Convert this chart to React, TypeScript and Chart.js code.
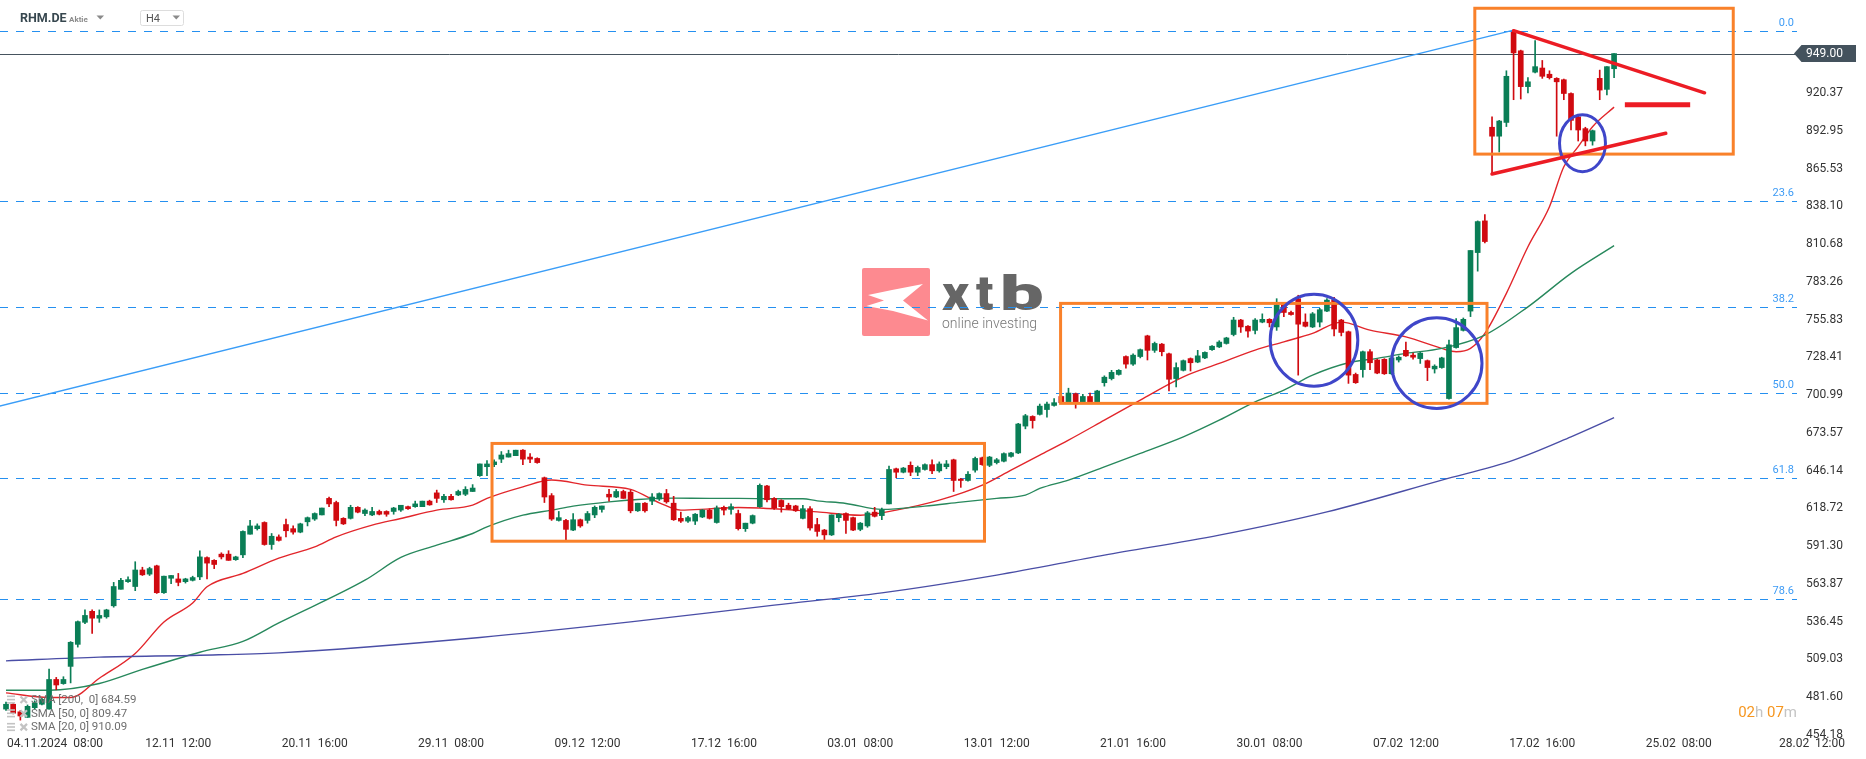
import React, { useEffect, useRef } from "react";
import { Chart, registerables } from "chart.js";

Chart.register(...registerables);

const W = 1866;
const H = 759;

// ---- candle data (H4), index 0 = first visible candle ----
const opens = [
  473,476.5,471,467,474,476.5,473,494.5,491.5,504,
  520,536,544,539,540,548,560,565.5,562,574,
  571,577,557.5,568,567.5,565.5,566.5,569,583,581,
  585.5,585.5,581.5,585,600,604,608.5,592.5,598,607,
  604,601.5,609,611,614,626,623,611.5,611.5,619.5,
  615,614,616.5,616.5,616.5,617.5,620,620,620,624,
  630,625,627.5,628.5,629,631,642.5,649,650.5,654.5,
  656,657,661,656,655,641,628,610,610,603,
  610.5,610,614,618,629,627,631,630.5,617,622.5,
  624,625.5,629.5,622.5,611.5,609.5,609.5,612.5,617.5,608.5,
  619.5,618,615,604,608,620,635,626,624.5,621,
  620.5,611.5,618.5,607,603,599.5,612,615,612,603.5,
  606,616,613.5,622,647.5,645,650,645,647,650.5,
  646,649,654,640,639,646.5,655.5,650,652,653,
  656.5,659,678.5,685.5,687,690.5,693.5,700,695.5,702,
  696,700,696,710,713,716,729,723.5,729,744,
  733.5,738,731,713,719,727.5,725,728,734,736,
  738.5,745,755.5,751,748,754,756,750.5,766.5,761,
  771,754,750.5,754,762,770,755.5,747,716,719.5,
  732.5,726.5,727,716.5,726.5,733.5,730,727.5,726,720,
  721,698.5,735.5,748,762,804.5,827.5,895.5,889,899,
  964.5,951,925,935.5,938.5,934,931,930,920,903,
  894.5,885.5,931,923,938,
];
const highs = [
  478,477,472,476,479,481,502,496,496.5,522,
  537,545,545,545,545.5,565,568,569,580,576,
  576,577.5,569.5,570,571.5,568,569.5,588,583.5,581.5,
  586.5,588,584,602.5,610,607.5,609,600.5,599.5,611,
  606,608,612.5,615.5,619,627,624,612,621,620,
  618.5,619.5,617.5,617,619.5,621,620.5,624,624,624.7,
  632,629,629,632,634.5,636,651,653.5,654,660,
  661,661,661.5,658.5,655.5,641.5,629.5,616.5,610.7,615,
  611,616.5,620.5,620.5,632.5,632.5,632,632,622.5,623,
  629.5,630,632.5,627.5,616,613,615,618,618.5,620.5,
  620.5,622,617.5,608,614,636.5,635.5,626.5,625,622.5,
  621,621,620,611.5,603.5,614,615,615.5,612.5,608.5,
  616.5,619.5,619,649.5,648,648.5,652.5,649.5,651,654,
  652.5,653.5,654.5,640.5,645.5,656,656,656.5,655,659,
  659.5,680.5,687,686,694.5,696,698.5,701,706,702.5,
  701.5,702.5,704.5,715,719,719.5,729.5,731,734.5,744.5,
  739.5,738.5,731.5,724.5,726.5,728,733.5,732.5,737,740.5,
  743,757.5,756,751.5,756.5,760,756.5,771,767,762,
  773.5,760,761,764,771,772,756,747.5,717,733,
  734,727,727.5,728.5,729.5,739.5,731.5,732,726.5,723,
  728.5,741,756.5,757,806,827.5,832,903,900.5,936.5,
  965.5,951.5,931.5,958.5,944,936.5,931.5,930.5,920.5,903.5,
  895.5,893.5,937,939.5,949,
];
const lows = [
  472,469.5,465,467,473,476,473,487,491,492,
  518,535,528,536,539,547,560,565,559,570,
  570,557,557,564,562.5,564.5,566,567,567.5,575,
  582,581,581,583,600,603,592,589,595,598,
  600,601,606,610,614,620,606,607,611,615.5,
  613.5,613.5,614,613,614.5,616.5,618,619.5,620,621,
  623,623,624.7,628,628,631,642,642.5,649,652,
  656,657,650.5,652,651.5,623,610,609.5,595.5,602.5,
  605,608,612,616,624,626.5,626,615.5,616.5,616,
  621.5,624.5,622.5,610,608.5,608.5,607,612,611,608,
  614,614.5,603,602,607.5,619.5,623.5,618,616,618,
  616.5,611,603,598.5,595.5,599,609,600.5,602.5,602.5,
  605,612.5,610.5,622,641,644.5,642.5,642.5,646.5,644,
  645,647.5,631,634,638.5,645,650,649,651,652.5,
  656,658.5,676.5,677,686.5,685,693,695,695,691.5,
  695.5,695.5,695.5,707.5,712,715.5,720.5,722.5,728,726.5,
  732,729.5,704,707,718.5,718.5,724.5,727.5,733.5,735.5,
  738,744,746.5,743,745.5,753.5,750.5,748,758,759,
  715.5,750.5,750,750.5,761.5,744,744,709.5,709.5,714,
  719.5,716.5,716,716,725,729,727,724,711.5,717,
  720.5,698,735,747.5,758,791,811.5,861.5,877.5,896,
  915.5,916,920.5,935,931,930.5,889,915.5,893.5,885.5,
  882,882.5,915.5,919,931.5,
];
const closes = [
  476.5,470,468,475,477.5,480,494.5,490.5,494.5,521.5,
  536.5,541,539,541,545,562,566.5,567,574,570.5,
  575,557.5,569.5,570,565,567.5,568.5,583.5,579,578,
  583.5,581,583.5,602,606,606,592.5,598.5,595.5,602.5,
  601.5,607.5,612,615,619,622,610,607.5,619.5,616,
  617.5,616.5,614.5,614.5,619,621,618.5,622,624,621.3,
  626,627.5,625,631,632.5,633.5,651,651,652.5,657.5,
  658.5,661,654.5,654.5,652,627,611,612,603.5,610.5,
  606,615,619.5,620.5,627,631,626,617,622.5,617,
  627,629.5,623.5,610.5,609.5,612,614.5,617.5,611.5,619,
  617.5,620,604,608,613.5,635.5,625,619,620,618.5,
  617,618.5,604.5,602,599.5,614,614.5,610,603,608,
  615.5,613,617.5,647,645,648,645,648.5,650.5,646,
  651,651,639,639,643.5,655,650.5,656,654,658.5,
  659,680,686,682.5,693,694.5,695.5,695.5,702.5,695.5,
  700,696,704,714,717.5,719,723.5,730,734,733.5,
  738.5,732.5,712.5,721,726,724.5,729.5,732,736.5,739.5,
  742.5,755.5,750.5,747.5,755.5,756,753.5,766.5,761,759.5,
  752.5,751,760,763,770,749,746.5,715.5,710,732.5,
  724.5,717,716.5,728,728.5,729.5,728.5,731.5,721,722,
  728,737.5,750,756,806,827,812.5,889,900,932.5,
  949.5,925,928.5,939.5,932.5,931.5,928.5,920,900.5,893.5,
  885.5,893,922.5,939.5,949,
];

// ---- moving averages: [candle index, value] ----
const sma20 = [
  [0,484.8],[6,481.4],[9,481.4],[13,495.4],[18,513.4],[22,536.3],[26,550.1],[28,561.8],[33,571.5],[38,582.6],
  [43,590.8],[46,598.1],[51,606.6],[55,611.4],[60,617.5],[65,621.1],[67,626.0],[72,634.4],[76,639.3],[81,635.6],
  [87,632.5],[91,622.8],[94,617.5],[98,618.4],[102,619.4],[110,617.5],[113,616.2],[119,613.8],[124,617.5],[130,624.7],
  [136,635.6],[140,646.5],[144,657.4],[148,668.3],[153,682.8],[158,697.4],[164,714.3],[169,724.0],[174,733.7],[178,739.7],
  [182,745.8],[186,754.0],[190,748.2],[195,743.3],[200,734.9],[202,732.5],[204,734.9],[206,745.8],[209,774.9],[212,808.7],
  [215,837.8],[217,866.8],[219,881.4],[221,895.9],[224,910.1],
];
const sma50 = [
  [0,486.7],[6,486.7],[13,491.6],[19,501.8],[27,514.3],[33,522.1],[38,535.6],[50,566.6],[55,583.1],[60,592.0],
  [65,600.5],[67,605.3],[72,613.8],[76,617.5],[79,620.4],[84,623.5],[88,625.2],[93,626.2],[98,626.0],[102,626.0],
  [107,625.7],[111,625.7],[113,624.2],[117,622.3],[122,618.0],[128,620.4],[133,623.3],[138,626.0],[142,628.4],[144,633.2],
  [148,639.3],[153,648.9],[158,658.7],[164,670.7],[169,682.8],[174,696.1],[178,704.6],[182,715.5],[187,724.5],[191,727.7],
  [195,731.3],[200,734.9],[206,744.6],[212,765.1],[218,789.4],[224,809.5],
];
const sma200 = [
  [0,508.0],[13,510.7],[27,512.1],[38,513.8],[66,525.0],[87,536.3],[107,548.5],[122,557.4],[138,570.3],[153,584.8],
  [169,599.3],[184,616.2],[200,639.3],[210,653.8],[218,670.7],[224,684.6],
];

// ---- axes ----
const yTicks = [454.18,481.60,509.03,536.45,563.87,591.30,618.72,646.14,673.57,700.99,728.41,755.83,783.26,810.68,838.10,865.53,892.95,920.37];
const xTickIdx = [5,24,43,62,81,100,119,138,157,176,195,214,233];
const xTickLabels = ["04.11.2024  08:00","12.11  12:00","20.11  16:00","29.11  08:00","09.12  12:00","17.12  16:00","03.01  08:00","13.01  12:00","21.01  16:00","30.01  08:00","07.02  12:00","17.02  16:00","25.02  08:00"];
const xEdgeLabel = "28.02  12:00";

// ---- drawings ----
const fibLevels = [965.4, 841.9, 764.9, 702.7, 640.7, 552.8];
const fibLabels = ["0.0","23.6","38.2","50.0","61.8","78.6"];
const lastPrice = 949.0;
const trendLine = [[-1, 692.9], [210, 966.1]];
const boxes = [[67.7,665.9,136.3,594.9],[146.9,767.6,206.3,695.0],[204.6,981.9,240.6,876.0]];
const ellipses = [[182.2,740.9,6.1,33.4],[199.3,724.2,6.3,32.9],[219.6,883.9,3.2,20.7]];
const redLines = [[210,965.6,236.6,920.5],[207,861.5,231.2,891.1]];
const redBar = [225.5,911.9,234.6,911.9];
const legendNames = ["SMA [200,  0]","SMA [50, 0]","SMA [20, 0]"];
const legendValues = ["684.59","809.47","910.09"];

const GREEN = "#0a7e56";
const RED = "#d00a10";

function drawGlyph(ctx: CanvasRenderingContext2D, ch: string, left: number, inkWidth: number, baseline: number) {
  const m = ctx.measureText(ch);
  const ink = m.actualBoundingBoxRight + m.actualBoundingBoxLeft;
  const sx = ink > 0 ? inkWidth / ink : 1;
  ctx.save();
  ctx.translate(left + m.actualBoundingBoxLeft * sx, baseline);
  ctx.scale(sx, 1);
  ctx.fillText(ch, 0, 0);
  ctx.restore();
}

const overlay = {
  id: "overlay",
  beforeDatasetsDraw(chart: any) {
    const { ctx, chartArea: a, scales } = chart;
    const x = scales.x, y = scales.y;
    ctx.save();
    // xtb logo watermark
    ctx.fillStyle = "#fd8a90";
    ctx.beginPath();
    (ctx as any).roundRect ? ctx.roundRect(862, 268, 68, 68, 2) : ctx.rect(862, 268, 68, 68);
    ctx.fill();
    ctx.fillStyle = "#ffffff";
    ctx.beginPath();
    ctx.moveTo(868, 295); ctx.lineTo(892, 290); ctx.lineTo(923, 284); ctx.lineTo(903, 300.5);
    ctx.lineTo(928, 320.5); ctx.lineTo(893, 311); ctx.lineTo(866.5, 306); ctx.lineTo(884, 300.5);
    ctx.closePath(); ctx.fill();
    ctx.fillStyle = "#666666";
    ctx.textBaseline = "alphabetic";
    ctx.textAlign = "left";
    ctx.font = "900 49px Roboto";
    drawGlyph(ctx, "x", 942, 28, 310);
    drawGlyph(ctx, "t", 976, 17.5, 310);
    drawGlyph(ctx, "b", 1003, 40, 310);
    ctx.fillStyle = "#777777";
    ctx.font = "300 14px Roboto";
    ctx.fillText("online investing", 942, 328, 99);

    ctx.beginPath(); ctx.rect(a.left, a.top, a.right - a.left, a.bottom - a.top); ctx.clip();
    // fibonacci levels
    ctx.strokeStyle = "#2590f0"; ctx.lineWidth = 1; ctx.setLineDash([8, 8]);
    fibLevels.forEach((lv) => {
      const py = Math.round(y.getPixelForValue(lv)) + 0.5;
      ctx.beginPath(); ctx.moveTo(a.left, py); ctx.lineTo(a.right, py); ctx.stroke();
    });
    ctx.setLineDash([]);
    ctx.fillStyle = "#3d9bf5"; ctx.font = "11px Roboto"; ctx.textAlign = "right"; ctx.textBaseline = "middle";
    fibLevels.forEach((lv, k) => {
      ctx.fillText(fibLabels[k], a.right - 3, y.getPixelForValue(lv) - 8);
    });
    // last price line
    const lp = Math.round(y.getPixelForValue(lastPrice)) + 0.5;
    ctx.strokeStyle = "#46545e"; ctx.lineWidth = 1;
    ctx.beginPath(); ctx.moveTo(a.left, lp); ctx.lineTo(a.right, lp); ctx.stroke();
    // trend line
    ctx.strokeStyle = "#3a9df7"; ctx.lineWidth = 1.3;
    ctx.beginPath();
    ctx.moveTo(x.getPixelForValue(trendLine[0][0]), y.getPixelForValue(trendLine[0][1]));
    ctx.lineTo(x.getPixelForValue(trendLine[1][0]), y.getPixelForValue(trendLine[1][1]));
    ctx.stroke();
    ctx.restore();
  },
  afterDatasetsDraw(chart: any) {
    const { ctx, chartArea: a, scales } = chart;
    const x = scales.x, y = scales.y;
    ctx.save();
    ctx.beginPath(); ctx.rect(a.left, a.top, a.right - a.left, a.bottom - a.top); ctx.clip();
    // orange boxes
    ctx.strokeStyle = "#f9812a"; ctx.lineWidth = 3;
    boxes.forEach(([i1, p1, i2, p2]) => {
      const x1 = x.getPixelForValue(i1), y1 = y.getPixelForValue(p1);
      const x2 = x.getPixelForValue(i2), y2 = y.getPixelForValue(p2);
      ctx.strokeRect(x1, y1, x2 - x1, y2 - y1);
    });
    // blue circles
    ctx.strokeStyle = "#3f46c9"; ctx.lineWidth = 3;
    ellipses.forEach(([ci, cp, ri, rp]) => {
      const cx = x.getPixelForValue(ci), cy = y.getPixelForValue(cp);
      const rx = x.getPixelForValue(ci + ri) - cx, ry = cy - y.getPixelForValue(cp + rp);
      ctx.beginPath(); ctx.ellipse(cx, cy, rx, ry, 0, 0, Math.PI * 2); ctx.stroke();
    });
    // red triangle lines
    ctx.strokeStyle = "#ec1c24"; ctx.lineWidth = 3.5; ctx.lineCap = "round";
    redLines.forEach(([i1, p1, i2, p2]) => {
      ctx.beginPath();
      ctx.moveTo(x.getPixelForValue(i1), y.getPixelForValue(p1));
      ctx.lineTo(x.getPixelForValue(i2), y.getPixelForValue(p2));
      ctx.stroke();
    });
    ctx.lineWidth = 5; ctx.lineCap = "butt";
    ctx.beginPath();
    ctx.moveTo(x.getPixelForValue(redBar[0]), y.getPixelForValue(redBar[1]));
    ctx.lineTo(x.getPixelForValue(redBar[2]), y.getPixelForValue(redBar[3]));
    ctx.stroke();
    ctx.restore();

    ctx.save();
    // legend of indicators
    const rowsY = [700, 713.7, 727.4];
    legendNames.forEach((nm, k) => {
      const ry = rowsY[k];
      ctx.fillStyle = "#c3c3c3";
      ctx.fillRect(7, ry - 4.5, 8, 1.6);
      ctx.fillRect(7, ry - 1.2, 8, 1.6);
      ctx.fillRect(7, ry + 2.1, 8, 1.6);
      ctx.strokeStyle = "#c3c3c3"; ctx.lineWidth = 2.2;
      ctx.beginPath();
      ctx.moveTo(20.5, ry - 3.5); ctx.lineTo(27, ry + 3);
      ctx.moveTo(27, ry - 3.5); ctx.lineTo(20.5, ry + 3);
      ctx.stroke();
      ctx.fillStyle = "#6e6e6e"; ctx.font = "11.5px Roboto"; ctx.textAlign = "left"; ctx.textBaseline = "middle";
      ctx.fillText(nm + " " + legendValues[k], 31, ry);
    });
    // candle countdown
    ctx.font = "15px Roboto"; ctx.textBaseline = "middle"; ctx.textAlign = "left";
    const parts: [string, string][] = [["02", "#f6961f"], ["h ", "#c4c4c4"], ["07", "#f6961f"], ["m", "#c4c4c4"]];
    const tw = parts.reduce((s, p) => s + ctx.measureText(p[0]).width, 0);
    let cx = a.right - tw;
    parts.forEach(([t, c]) => { ctx.fillStyle = c; ctx.fillText(t, cx, 713); cx += ctx.measureText(t).width; });
    // price tag
    const ty = y.getPixelForValue(lastPrice);
    ctx.fillStyle = "#44525d";
    ctx.beginPath();
    ctx.moveTo(a.right - 3, ty); ctx.lineTo(a.right + 4.5, ty - 8.5); ctx.lineTo(W - 10, ty - 8.5);
    ctx.lineTo(W - 10, ty + 8.5); ctx.lineTo(a.right + 4.5, ty + 8.5); ctx.closePath(); ctx.fill();
    ctx.fillStyle = "#ffffff"; ctx.font = "12px Roboto"; ctx.textAlign = "left"; ctx.textBaseline = "middle";
    ctx.fillText(lastPrice.toFixed(2), a.right + 9, ty + 0.5);
    ctx.restore();
  },
  afterDraw(chart: any) {
    const { ctx, scales } = chart;
    const x = scales.x;
    ctx.save();
    // time axis labels
    ctx.font = "12px Roboto"; ctx.fillStyle = "#333333"; ctx.textBaseline = "middle"; ctx.textAlign = "left";
    xTickIdx.forEach((v, k) => {
      const px = x.getPixelForValue(v);
      const w = ctx.measureText(xTickLabels[k]).width;
      const left = Math.max(7, px - w / 2);
      ctx.fillText(xTickLabels[k], left, 744);
    });
    ctx.textAlign = "right";
    ctx.fillText(xEdgeLabel, W - 21, 744);
    // header
    ctx.textAlign = "left";
    ctx.font = "bold 12.5px Roboto"; ctx.fillStyle = "#37474f";
    ctx.fillText("RHM.DE", 20, 18.5);
    ctx.font = "bold 8px Roboto"; ctx.fillStyle = "#8c8c8c";
    ctx.fillText("Aktie", 69, 19.5);
    ctx.fillStyle = "#8a8a8a";
    ctx.beginPath(); ctx.moveTo(96.5, 15.5); ctx.lineTo(104, 15.5); ctx.lineTo(100.25, 19.5); ctx.closePath(); ctx.fill();
    ctx.strokeStyle = "#dddddd"; ctx.lineWidth = 1;
    ctx.beginPath();
    (ctx as any).roundRect ? ctx.roundRect(140.5, 10.5, 43, 15, 2) : ctx.rect(140.5, 10.5, 43, 15);
    ctx.stroke();
    ctx.font = "11px Roboto"; ctx.fillStyle = "#555555";
    ctx.fillText("H4", 146, 19);
    ctx.fillStyle = "#8a8a8a";
    ctx.beginPath(); ctx.moveTo(172.5, 15.5); ctx.lineTo(180, 15.5); ctx.lineTo(176.25, 19.5); ctx.closePath(); ctx.fill();
    ctx.restore();
  },
};

export default function App() {
  const ref = useRef<HTMLCanvasElement>(null);
  useEffect(() => {
    const canvas = ref.current;
    if (!canvas) return;
    const idx = opens.map((_, i) => i);
    const colors = idx.map((i) => (closes[i] >= opens[i] ? GREEN : RED));
    const lineDs = (pts: number[][], color: string) => ({
      type: "line" as const,
      data: pts.map(([i, v]) => ({ x: i, y: v })),
      borderColor: color,
      borderWidth: 1.4,
      pointRadius: 0,
      cubicInterpolationMode: "monotone" as const,
      fill: false,
      order: 5,
    });
    const chart = new Chart(canvas, {
      type: "bar",
      data: {
        datasets: [
          {
            type: "bar",
            label: "body",
            data: idx.map((i) => ({ x: i, y: [opens[i], closes[i]] })) as any,
            backgroundColor: colors,
            barThickness: 5,
            grouped: false,
            minBarLength: 1,
            borderWidth: 0,
            order: 1,
          } as any,
          {
            type: "bar",
            label: "wick",
            data: idx.map((i) => ({ x: i, y: [lows[i], highs[i]] })) as any,
            backgroundColor: colors,
            barThickness: 1,
            grouped: false,
            borderWidth: 0,
            order: 2,
          } as any,
          lineDs(sma200, "#4a4ea6") as any,
          lineDs(sma50, "#27885c") as any,
          lineDs(sma20, "#e2262b") as any,
        ],
      },
      options: {
        animation: false,
        responsive: false,
        devicePixelRatio: 1,
        events: [],
        layout: { padding: 0 },
        plugins: { legend: { display: false }, tooltip: { enabled: false } },
        scales: {
          x: {
            type: "linear",
            min: -0.836,
            max: 249.48,
            offset: false,
            grid: { display: false, drawTicks: false },
            border: { display: false },
            ticks: { display: false },
            afterFit: (s: any) => { s.height = 24; s.paddingLeft = 0; s.paddingRight = 0; },
          },
          y: {
            type: "linear",
            position: "right",
            min: 454.18,
            max: 987.9,
            grid: { display: false, drawTicks: false },
            border: { display: false },
            afterBuildTicks: (s: any) => { s.ticks = yTicks.map((v) => ({ value: v })); },
            afterFit: (s: any) => { s.width = 69; s.paddingTop = 0; s.paddingBottom = 0; },
            ticks: {
              autoSkip: false,
              padding: 9,
              color: "#333333",
              font: { family: "Roboto", size: 12 },
              callback: (v: any) => Number(v).toFixed(2),
            },
          },
        },
      } as any,
      plugins: [overlay],
    });
    return () => chart.destroy();
  }, []);
  return (
    <div style={{ position: "fixed", left: 0, top: 0, width: W, height: H, background: "#ffffff" }}>
      <canvas ref={ref} width={W} height={H} style={{ display: "block", width: W, height: H }} />
    </div>
  );
}
